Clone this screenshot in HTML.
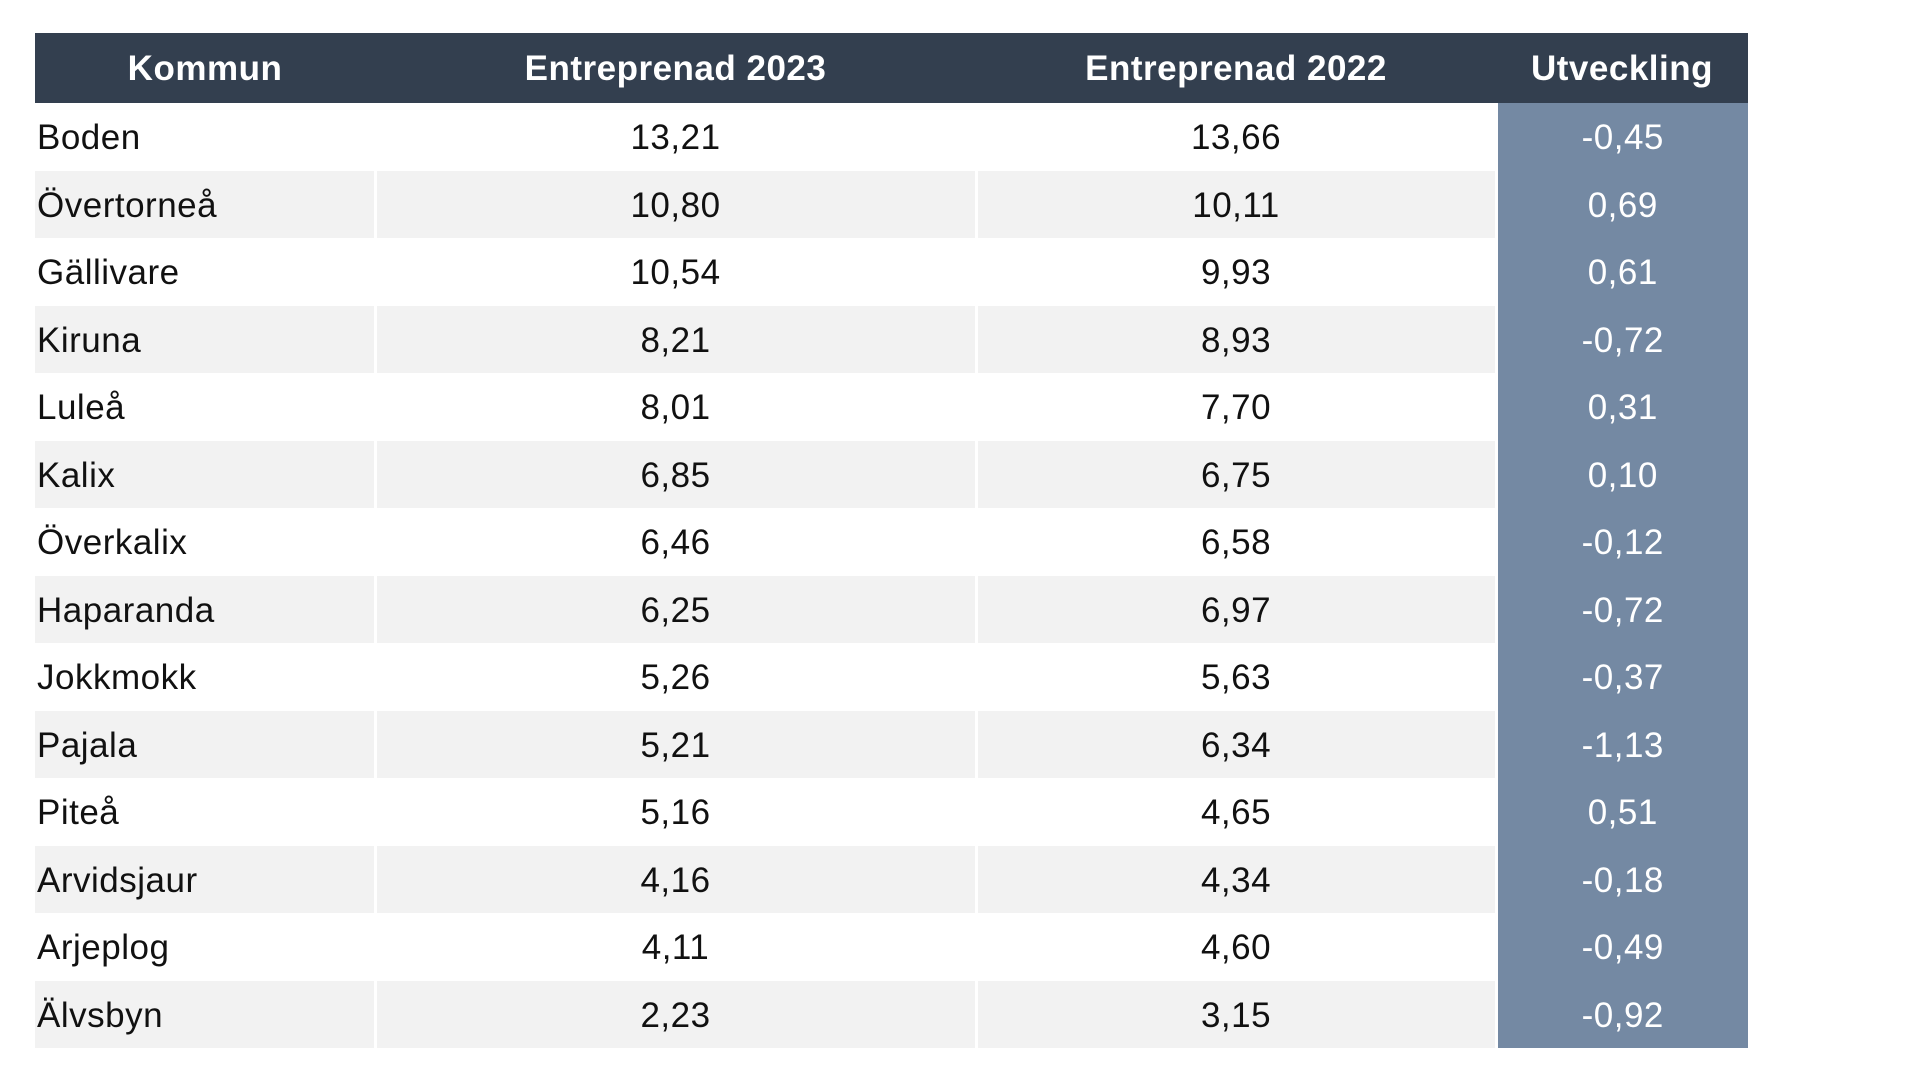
<!DOCTYPE html>
<html><head><meta charset="utf-8"><style>
html,body{margin:0;padding:0;background:#fff;width:1920px;height:1079px;overflow:hidden}
table{position:absolute;left:35px;top:33px;border-collapse:collapse;font-family:"Liberation Sans",sans-serif}
th{background:#333f4f;color:#fff;font-size:35px;font-weight:bold;height:70px;box-sizing:border-box;padding:2px 0 0 0;letter-spacing:0.5px;text-align:center}
td{height:67.5px;padding:3px 0 0 0;box-sizing:border-box;font-size:35px;color:#111;letter-spacing:0.5px;text-align:center;border-left:3px solid #fff}
td:first-child{text-align:left;border-left:none;padding-left:2px}
tr:nth-child(even) td{background:#f2f2f2}
td.u,tr:nth-child(even) td.u{background:#7489a3;color:#fff}
</style></head><body>
<table>
<colgroup><col style="width:340px"><col style="width:601px"><col style="width:520px"><col style="width:252px"></colgroup>
<thead><tr><th>Kommun</th><th>Entreprenad 2023</th><th>Entreprenad 2022</th><th>Utveckling</th></tr></thead>
<tbody>
<tr><td>Boden</td><td>13,21</td><td>13,66</td><td class="u">-0,45</td></tr>
<tr><td>Övertorneå</td><td>10,80</td><td>10,11</td><td class="u">0,69</td></tr>
<tr><td>Gällivare</td><td>10,54</td><td>9,93</td><td class="u">0,61</td></tr>
<tr><td>Kiruna</td><td>8,21</td><td>8,93</td><td class="u">-0,72</td></tr>
<tr><td>Luleå</td><td>8,01</td><td>7,70</td><td class="u">0,31</td></tr>
<tr><td>Kalix</td><td>6,85</td><td>6,75</td><td class="u">0,10</td></tr>
<tr><td>Överkalix</td><td>6,46</td><td>6,58</td><td class="u">-0,12</td></tr>
<tr><td>Haparanda</td><td>6,25</td><td>6,97</td><td class="u">-0,72</td></tr>
<tr><td>Jokkmokk</td><td>5,26</td><td>5,63</td><td class="u">-0,37</td></tr>
<tr><td>Pajala</td><td>5,21</td><td>6,34</td><td class="u">-1,13</td></tr>
<tr><td>Piteå</td><td>5,16</td><td>4,65</td><td class="u">0,51</td></tr>
<tr><td>Arvidsjaur</td><td>4,16</td><td>4,34</td><td class="u">-0,18</td></tr>
<tr><td>Arjeplog</td><td>4,11</td><td>4,60</td><td class="u">-0,49</td></tr>
<tr><td>Älvsbyn</td><td>2,23</td><td>3,15</td><td class="u">-0,92</td></tr>
</tbody></table>
</body></html>
